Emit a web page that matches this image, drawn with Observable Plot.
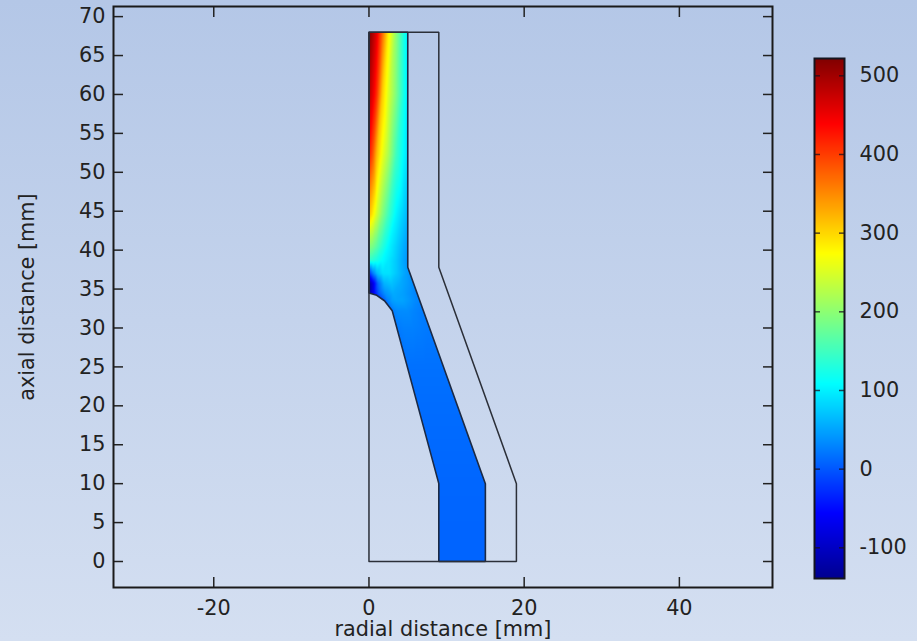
<!DOCTYPE html>
<html>
<head>
<meta charset="utf-8">
<script src="https://cdn.jsdelivr.net/npm/d3@7"></script>
<script src="https://cdn.jsdelivr.net/npm/@observablehq/plot@0.6"></script>
<style>
html,body{margin:0;padding:0;width:917px;height:641px;overflow:hidden;background:linear-gradient(to bottom,#b4c7e7,#d4dff1);}
#wrap{position:relative;width:917px;height:641px;}
#wrap>svg{position:absolute;display:block;background:transparent;}
svg text{font-family:"DejaVu Sans",sans-serif;}
</style>
</head>
<body>
<div id="wrap"></div>
<script>
// axis ticks
const xTicks = [-20, 0, 20, 40];
const yTicks = [0, 5, 10, 15, 20, 25, 30, 35, 40, 45, 50, 55, 60, 65, 70];
const barTicks = [-100, 0, 100, 200, 300, 400, 500];
// geometry in mm
const outerR = [0, 19, 19, 9, 9, 0, 0];
const outerZ = [0, 0, 10, 37.8, 68, 68, 0];
const channelR = [0, 5, 5, 15, 15, 9, 9, 3, 2, 1, 0, 0];
const channelZ = [68, 68, 37.8, 10, 0, 0, 10, 32.2, 33.5, 34.2, 34.5, 68];
// field samples: rows at axial position, columns at fraction across the channel
const rowZ = [68, 60, 52.3, 44.6, 40.4, 38.7, 37, 35.7, 34.4, 33.5, 32.2, 30, 25, 20, 15, 10, 5, 0];
const rowInner = [0, 0, 0, 0, 0, 0, 0, 0, 0, 2, 3, 3.6, 5, 6.3, 7.6, 9, 9, 9];
const rowOuter = [5, 5, 5, 5, 5, 5, 5.3, 5.75, 6.2, 6.55, 7, 7.8, 9.6, 11.4, 13.2, 15, 15, 15];
const colFrac = [0, 0.1, 0.2, 0.34, 0.5, 0.7, 0.9, 1];
const fieldValues = [
  [522, 490, 455, 375, 285, 200, 125, 100],
  [490, 455, 410, 310, 250, 190, 122, 98],
  [430, 385, 320, 265, 220, 150, 105, 90],
  [320, 285, 245, 195, 150, 103, 75, 62],
  [195, 185, 165, 135, 105, 80, 55, 45],
  [140, 135, 125, 110, 95, 75, 50, 40],
  [-30, 25, 65, 90, 90, 70, 48, 38],
  [-135, -70, 10, 60, 70, 55, 42, 33],
  [-137, -60, 0, 38, 55, 48, 35, 28],
  [5, 30, 45, 50, 50, 42, 32, 28],
  [20, 32, 35, 35, 35, 30, 26, 25],
  [22, 25, 27, 27, 27, 25, 23, 22],
  [17, 17, 17, 17, 17, 17, 17, 17],
  [14, 14, 14, 14, 14, 14, 14, 14],
  [12, 12, 12, 12, 12, 12, 12, 12],
  [10, 10, 10, 10, 10, 10, 10, 10],
  [9, 9, 9, 9, 9, 9, 9, 9],
  [9, 9, 9, 9, 9, 9, 9, 9]
];
// colour table
const stopValues = [-139, -56, 109, 274, 439, 522];
const stopColors = ["#00008f", "#0000ff", "#00ffff", "#ffff00", "#ff0000", "#800000"];

const colorSpec = {type: "linear", domain: stopValues, range: stopColors, interpolate: "rgb", clamp: true};
const ink = "#222";
const textSize = 20.8;
const samples = rowZ.flatMap((z, i) => colFrac.map((f, j) => ({
  r: rowInner[i] + f * (rowOuter[i] - rowInner[i]), z, v: fieldValues[i][j]
})));
const outline = outerR.map((r, i) => ({r, z: outerZ[i]}));
const channel = channelR.map((r, i) => ({r, z: channelZ[i]}));

function clipTo(shape, id) {
  return function (index, scales, values, dimensions, context, next) {
    const g = next(index, scales, values, dimensions, context);
    const ns = "http://www.w3.org/2000/svg";
    const cp = document.createElementNS(ns, "clipPath");
    cp.setAttribute("id", id);
    const path = document.createElementNS(ns, "path");
    path.setAttribute("d", "M" + shape.map(p => scales.x(p.r) + "," + scales.y(p.z)).join("L") + "Z");
    cp.appendChild(path);
    g.appendChild(cp);
    g.setAttribute("clip-path", `url(#${id})`);
    return g;
  };
}

const main = Plot.plot({
  width: 917, height: 641,
  marginLeft: 113, marginRight: 145, marginTop: 6, marginBottom: 54,
  style: {background: "transparent", color: ink, fontFamily: "DejaVu Sans"},
  x: {domain: [-32.92, 52], label: null},
  y: {domain: [-3.34, 71.3], label: null},
  color: colorSpec,
  marks: [
    Plot.raster(samples, {x: "r", y: "z", fill: "v", interpolate: "barycentric", pixelSize: 0.5, render: clipTo(channel, "field-clip")}),
    Plot.line(channel, {x: "r", z: null, y: "z", stroke: "#1c2a44", strokeWidth: 1.6, strokeLinejoin: "miter"}),
    Plot.line(outline, {x: "r", z: null, y: "z", stroke: "#2b2f38", strokeWidth: 1.5, strokeLinejoin: "miter"}),
    Plot.axisX(xTicks, {anchor: "bottom", tickSize: -10, tickPadding: 23, fontSize: textSize, stroke: ink, strokeWidth: 1.5, label: "radial distance [mm]", labelAnchor: "center", labelArrow: "none", labelOffset: 48, tickFormat: d => d}),
    Plot.axisX(xTicks, {anchor: "top", tickSize: -10, stroke: ink, strokeWidth: 1.5, label: null, tickFormat: () => ""}),
    Plot.axisY(yTicks, {anchor: "left", tickSize: -10, tickPadding: 18, fontSize: textSize, stroke: ink, strokeWidth: 1.5, label: "axial distance [mm]", labelAnchor: "center", labelArrow: "none", labelOffset: 94, tickFormat: d => d}),
    Plot.axisY(yTicks, {anchor: "right", tickSize: -10, stroke: ink, strokeWidth: 1.5, label: null, tickFormat: () => ""}),
    Plot.frame({stroke: "#1a1a1a", strokeWidth: 2})
  ]
});

const barSamples = stopValues.flatMap(v => [0, 1].map(c => ({c, v})));
const bar = Plot.plot({
  width: 117, height: 556,
  marginLeft: 14, marginRight: 73, marginTop: 18, marginBottom: 18,
  style: {background: "transparent", color: ink, fontFamily: "DejaVu Sans"},
  x: {domain: [0, 1], axis: null},
  y: {domain: [-139, 522], label: null},
  color: colorSpec,
  marks: [
    Plot.raster(barSamples, {x: "c", y: "v", fill: "v", interpolate: "barycentric"}),
    Plot.axisY(barTicks, {anchor: "left", tickSize: -6, stroke: "#1a1020", strokeWidth: 1.5, strokeOpacity: 0.75, label: null, tickFormat: () => ""}),
    Plot.axisY(barTicks, {anchor: "right", tickSize: -6, tickPadding: 21, fontSize: textSize, stroke: "#1a1020", strokeWidth: 1.5, strokeOpacity: 0.75, label: null, tickFormat: d => d}),
    Plot.frame({stroke: "#15151f", strokeWidth: 2})
  ]
});
bar.style.left = "800px";
bar.style.top = "40px";
main.style.left = "0px";
main.style.top = "0px";
document.getElementById("wrap").append(main, bar);
</script>
</body>
</html>
